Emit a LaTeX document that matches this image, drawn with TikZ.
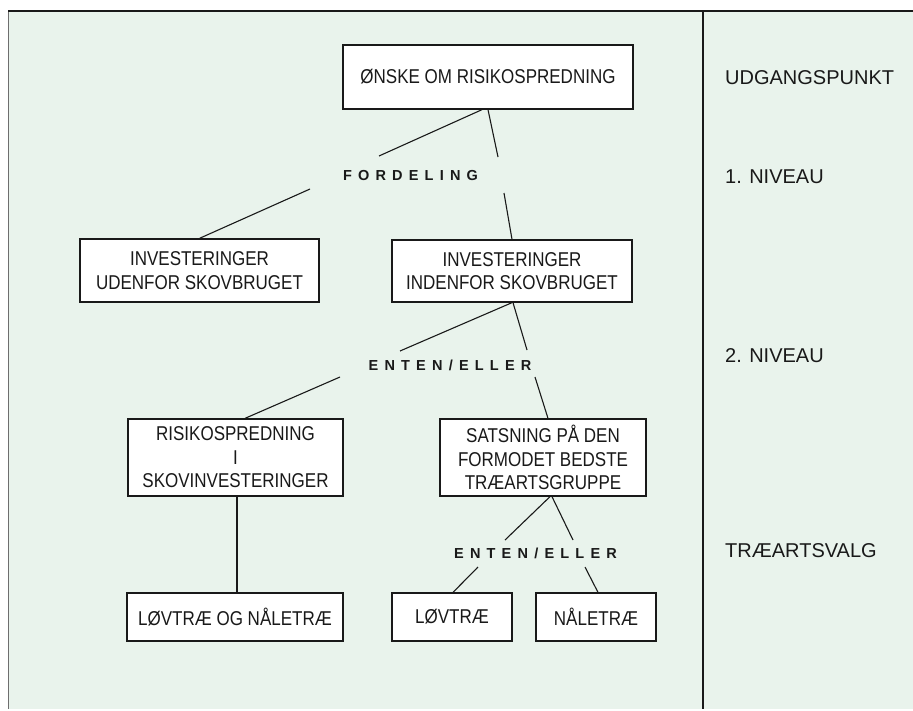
\documentclass[tikz,border=0pt]{standalone}
\usepackage{fontspec}
\setmainfont{Liberation Sans}
\newfontfamily\boxfont[FakeStretch=0.85]{Liberation Sans}
\definecolor{paper}{RGB}{233,243,236}
\definecolor{ink}{RGB}{25,25,25}
\definecolor{edge}{RGB}{110,110,110}
\tikzset{
  box/.style={draw=ink, line width=1.3pt, fill=white, inner sep=0pt, align=center,
    font=\boxfont\fontsize{20}{23.5}\selectfont, text=ink},
  conn/.style={draw=ink, line width=1.1pt},
  lab/.style={inner sep=0pt, font=\fontsize{14.5}{14.5}\selectfont\bfseries, text=ink},
  side/.style={inner sep=0pt, anchor=west, font=\fontsize{20}{20}\selectfont, text=ink},
}
\newcommand{\lsg}{\hspace{6.2pt}}
\begin{document}
\begin{tikzpicture}[x=1pt, y=-1pt]
  \useasboundingbox (0,0) rectangle (913,710);
  \fill[white] (0,0) rectangle (913,710);
  \fill[paper] (8,11) rectangle (913,709);
  \draw[edge, line width=1pt] (8,11) -- (8,709);
  \draw[ink, line width=1.2pt] (8,11) -- (913,11);
  \draw[ink, line width=1.2pt] (703,11) -- (703,709);

  % boxes
  \node[box, minimum width=290pt, minimum height=64pt] (top) at (488,77) {ØNSKE OM RISIKOSPREDNING};
  \node[box, minimum width=239pt, minimum height=63pt] (udenfor) at (199.5,270.5) {INVESTERINGER\\UDENFOR SKOVBRUGET};
  \node[box, minimum width=240pt, minimum height=62pt] (indenfor) at (512,271) {INVESTERINGER\\INDENFOR SKOVBRUGET};
  \node[box, minimum width=215pt, minimum height=77pt] (risiko) at (235.5,457.5) {RISIKOSPREDNING\\I\\SKOVINVESTERINGER};
  \node[box, minimum width=206pt, minimum height=77pt] (satsning) at (543,457.5) {SATSNING PÅ DEN\\FORMODET BEDSTE\\TRÆARTSGRUPPE};
  \node[box, minimum width=216pt, minimum height=48pt] (lovog) at (235,617) {LØVTRÆ OG NÅLETRÆ};
  \node[box, minimum width=120pt, minimum height=48pt] (lovtrae) at (452,617) {LØVTRÆ};
  \node[box, minimum width=120pt, minimum height=48pt] (naaletrae) at (596,617) {NÅLETRÆ};

  % labels
  \node[lab] (fordeling) at (410.5,176) {F\lsg O\lsg R\lsg D\lsg E\lsg L\lsg I\lsg N\lsg G};
  \node[lab] (ee1) at (450,365) {E\lsg N\lsg T\lsg E\lsg N\lsg /\lsg E\lsg L\lsg L\lsg E\lsg R};
  \node[lab] (ee2) at (535.5,553) {E\lsg N\lsg T\lsg E\lsg N\lsg /\lsg E\lsg L\lsg L\lsg E\lsg R};

  \node[side] (s1) at (725,78) {UDGANGSPUNKT};
  \node[side] (s2) at (725,177) {1. NIVEAU};
  \node[side] (s3) at (725,356) {2. NIVEAU};
  \node[side] (s4) at (725,551) {TRÆARTSVALG};

  % gap end coordinates
  \coordinate (a1) at (379,156);
  \coordinate (a2) at (310,189);
  \coordinate (b1) at (498,157);
  \coordinate (b2) at (504,193);
  \coordinate (c1) at (400,351);
  \coordinate (c2) at (340,377);
  \coordinate (d1) at (527,350);
  \coordinate (d2) at (535,377);
  \coordinate (e1) at (505,540);
  \coordinate (e2) at (478,567);
  \coordinate (f1) at (573,540);
  \coordinate (f2) at (585,567);

  % connectors
  \draw[conn] ([xshift=-6pt]top.south) -- (a1);
  \draw[conn] (a2) -- (udenfor.north);
  \draw[conn] (top.south) -- (b1);
  \draw[conn] (b2) -- (indenfor.north);
  \draw[conn] (indenfor.south) -- (c1);
  \draw[conn] (c2) -- ([xshift=9.5pt]risiko.north);
  \draw[conn] ([xshift=1pt]indenfor.south) -- (d1);
  \draw[conn] (d2) -- ([xshift=5pt]satsning.north);
  \draw[conn] ([xshift=1.5pt]risiko.south) -- ([xshift=1.5pt]risiko.south |- lovog.north);
  \draw[conn] ([xshift=7pt]satsning.south) -- (e1);
  \draw[conn] (e2) -- ([xshift=1pt]lovtrae.north);
  \draw[conn] ([xshift=9pt]satsning.south) -- (f1);
  \draw[conn] (f2) -- ([xshift=2pt]naaletrae.north);
\end{tikzpicture}
\end{document}
